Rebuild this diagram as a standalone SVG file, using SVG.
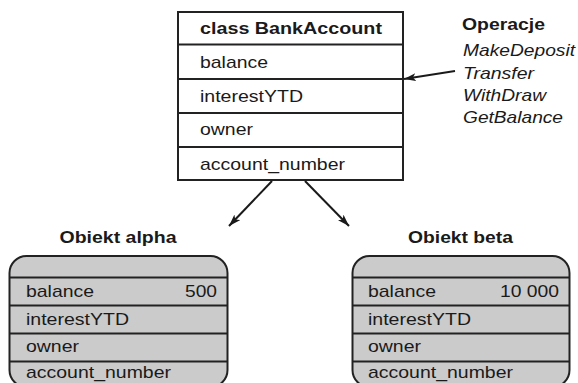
<svg xmlns="http://www.w3.org/2000/svg" width="578" height="383" viewBox="0 0 578 383">
<defs>
<style>
text{font-family:"Liberation Sans",Arial,sans-serif;font-size:17px;fill:#1a1a1a}
.b{font-weight:bold}
.i{font-style:italic}
.box{fill:#fff;stroke:#222;stroke-width:2}
.obj{fill:#cbcbcb;stroke:#222;stroke-width:2}
.ln{stroke:#222;stroke-width:2;fill:none}
.con{stroke:#1a1a1a;stroke-width:2;fill:none}
</style>
<marker id="ah" viewBox="0 0 12 8" refX="12" refY="4" markerWidth="12" markerHeight="8" markerUnits="userSpaceOnUse" orient="auto">
<path d="M0,0 L12,4 L0,8 L3,4 Z" fill="#1a1a1a"/>
</marker>
</defs>
<rect width="578" height="383" fill="#fff"/>
<g id="class">
<rect class="box" x="178" y="12" width="225" height="168"/>
<line class="ln" x1="178" y1="44.5" x2="403" y2="44.5"/>
<line class="ln" x1="178" y1="79" x2="403" y2="79"/>
<line class="ln" x1="178" y1="113" x2="403" y2="113"/>
<line class="ln" x1="178" y1="147" x2="403" y2="147"/>
<text class="b" x="200" y="34" textLength="182" lengthAdjust="spacingAndGlyphs">class BankAccount</text>
<text x="200" y="68" textLength="68" lengthAdjust="spacingAndGlyphs">balance</text>
<text x="200" y="102" textLength="103" lengthAdjust="spacingAndGlyphs">interestYTD</text>
<text x="200" y="135" textLength="53" lengthAdjust="spacingAndGlyphs">owner</text>
<text x="200" y="170" textLength="145" lengthAdjust="spacingAndGlyphs">account_number</text>
</g>
<g id="operacje">
<text class="b" x="462" y="30" textLength="83" lengthAdjust="spacingAndGlyphs">Operacje</text>
<text class="i" x="463" y="56" textLength="112" lengthAdjust="spacingAndGlyphs">MakeDeposit</text>
<text class="i" x="463" y="79" textLength="71" lengthAdjust="spacingAndGlyphs">Transfer</text>
<text class="i" x="463" y="101" textLength="83" lengthAdjust="spacingAndGlyphs">WithDraw</text>
<text class="i" x="463" y="123" textLength="100" lengthAdjust="spacingAndGlyphs">GetBalance</text>
</g>
<g id="alpha">
<text class="b" x="118" y="243" text-anchor="middle" textLength="117" lengthAdjust="spacingAndGlyphs">Obiekt alpha</text>
<rect class="obj" x="9.5" y="256" width="218" height="131" rx="17" ry="17"/>
<line class="ln" x1="9.5" y1="277.5" x2="227.5" y2="277.5"/>
<line class="ln" x1="9.5" y1="305.5" x2="227.5" y2="305.5"/>
<line class="ln" x1="9.5" y1="333.5" x2="227.5" y2="333.5"/>
<line class="ln" x1="9.5" y1="361.5" x2="227.5" y2="361.5"/>
<text x="26" y="297" textLength="68" lengthAdjust="spacingAndGlyphs">balance</text>
<text x="217" y="297" text-anchor="end" textLength="32" lengthAdjust="spacingAndGlyphs">500</text>
<text x="26" y="325" textLength="103" lengthAdjust="spacingAndGlyphs">interestYTD</text>
<text x="26" y="352" textLength="53" lengthAdjust="spacingAndGlyphs">owner</text>
<text x="26" y="378" textLength="145" lengthAdjust="spacingAndGlyphs">account_number</text>
</g>
<g id="beta">
<text class="b" x="460.5" y="243" text-anchor="middle" textLength="105" lengthAdjust="spacingAndGlyphs">Obiekt beta</text>
<rect class="obj" x="352.5" y="256" width="217" height="131" rx="17" ry="17"/>
<line class="ln" x1="352.5" y1="277.5" x2="569.5" y2="277.5"/>
<line class="ln" x1="352.5" y1="305.5" x2="569.5" y2="305.5"/>
<line class="ln" x1="352.5" y1="333.5" x2="569.5" y2="333.5"/>
<line class="ln" x1="352.5" y1="361.5" x2="569.5" y2="361.5"/>
<text x="368" y="297" textLength="68" lengthAdjust="spacingAndGlyphs">balance</text>
<text x="559" y="297" text-anchor="end" textLength="59" lengthAdjust="spacingAndGlyphs">10 000</text>
<text x="368" y="325" textLength="103" lengthAdjust="spacingAndGlyphs">interestYTD</text>
<text x="368" y="352" textLength="53" lengthAdjust="spacingAndGlyphs">owner</text>
<text x="368" y="378" textLength="145" lengthAdjust="spacingAndGlyphs">account_number</text>
</g>
<g id="connectors">
<line class="con" x1="455" y1="71" x2="404" y2="79" marker-end="url(#ah)"/>
<line class="con" x1="272" y1="181" x2="229" y2="226" marker-end="url(#ah)"/>
<line class="con" x1="305" y1="181" x2="349" y2="226" marker-end="url(#ah)"/>
</g>
</svg>
